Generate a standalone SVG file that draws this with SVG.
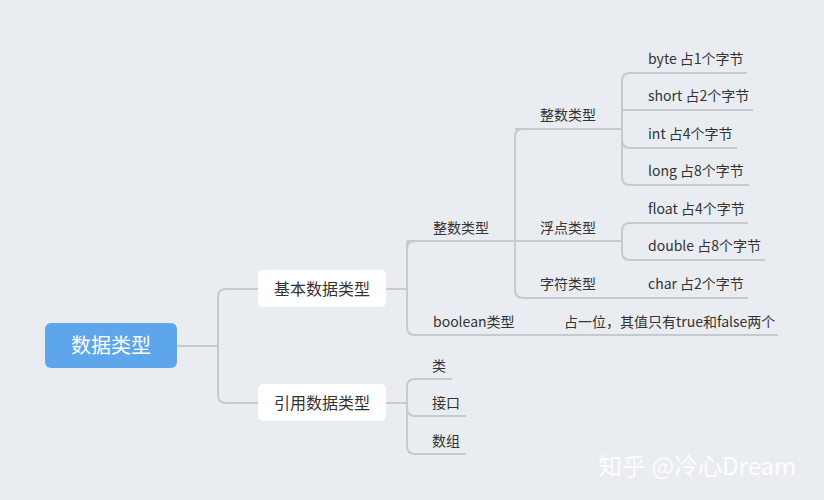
<svg xmlns="http://www.w3.org/2000/svg" width="824" height="500" viewBox="0 0 824 500">
<style>
.c{fill:none;stroke:#c5cad0;stroke-width:2}
.t{font-family:"Noto Sans CJK SC","Noto Sans",sans-serif;font-size:14px;fill:#333}
.n{font-family:"Noto Sans CJK SC",sans-serif;font-size:16px;fill:#333;text-anchor:middle}
</style>
<rect width="824" height="500" fill="#e9edf1"/>
<g id="connectors">
<path class="c" d="M177 346H218M258 289H226Q218 289 218 297V395Q218 403 226 403H258"/>
<path class="c" d="M386 289H407M515 241H407M407 241Q407 241 407 249V327Q407 335 415 335H778M407 249Q407 241 415 241"/>
<path class="c" d="M523 129Q515 129 515 137V290Q515 298 523 298H748M515 241H622"/>
<path class="c" d="M515 129H622M630 73Q622 73 622 81V177Q622 185 630 185H749M630 73H747M622 110H753M622 140Q622 148 630 148H737"/>
<path class="c" d="M622 241V252Q622 260 630 260H765M622 241V231Q622 223 630 223H748"/>
<path class="c" d="M386 403H407M415 379Q407 379 407 387V446Q407 454 415 454H466M415 379H452M407 408Q407 416 415 416H466"/>
</g>
<g id="root"><rect x="45" y="323" width="132" height="45" rx="6" fill="#5ea6ec"/><text x="111" y="353" class="n" style="fill:#fff;font-size:20px">数据类型</text></g>
<g id="basic"><rect x="258" y="270" width="128" height="37" rx="5" fill="#fff"/><text x="322" y="295" class="n">基本数据类型</text></g>
<g id="ref"><rect x="258" y="384" width="128" height="37" rx="5" fill="#fff"/><text x="322" y="409" class="n">引用数据类型</text></g>
<g id="int1"><text x="433" y="233" class="t">整数类型</text></g>
<g id="bool"><text x="433" y="327" class="t">boolean类型</text></g>
<g id="boolv"><text x="564" y="327" class="t">占一位，其值只有true和false两个</text></g>
<g id="int2"><text x="540" y="120" class="t">整数类型</text></g>
<g id="float"><text x="540" y="233" class="t">浮点类型</text></g>
<g id="char"><text x="540" y="289" class="t">字符类型</text></g>
<g id="byte"><text x="648" y="64" class="t">byte 占1个字节</text></g>
<g id="short"><text x="648" y="101" class="t">short 占2个字节</text></g>
<g id="i"><text x="648" y="139" class="t">int 占4个字节</text></g>
<g id="long"><text x="648" y="176" class="t">long 占8个字节</text></g>
<g id="fl"><text x="648" y="214" class="t">float 占4个字节</text></g>
<g id="db"><text x="648" y="251" class="t">double 占8个字节</text></g>
<g id="ch"><text x="648" y="289" class="t">char 占2个字节</text></g>
<g id="cls"><text x="432" y="371" class="t">类</text></g>
<g id="itf"><text x="432" y="408" class="t">接口</text></g>
<g id="arr"><text x="432" y="446" class="t">数组</text></g>
<text x="598" y="475" style="font-family:'Noto Sans CJK SC',sans-serif;font-size:24px;fill:#fff;opacity:0.9">知乎 @冷心Dream</text>
</svg>
